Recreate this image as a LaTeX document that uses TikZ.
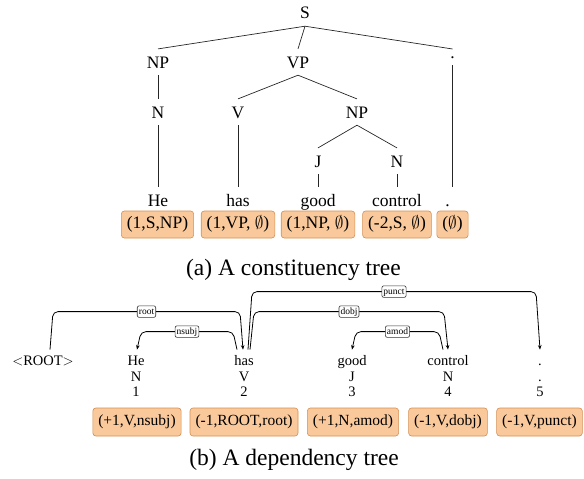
\documentclass[tikz,border=0pt]{standalone}
\usepackage{fontspec}
\setmainfont{Liberation Serif}
\usetikzlibrary{arrows.meta,calc}
\definecolor{boxfill}{RGB}{250,201,155}
\definecolor{boxline}{RGB}{212,142,82}
\begin{document}
\begin{tikzpicture}[x=1pt,y=-1pt,
  tl/.style={font=\fontsize{17.5}{21}\selectfont, text height=11.9pt, text depth=0pt, inner xsep=2pt, inner ysep=7pt, anchor=base},
  dl/.style={font=\fontsize{17.5}{21}\selectfont, inner xsep=1pt, inner ysep=7pt, anchor=base},
  br/.style={line width=0.7pt, draw=black!85},
  abox/.style={font=\fontsize{17.5}{21}\selectfont, fill=boxfill, draw=boxline, rounded corners=3pt, line width=0.6pt, inner xsep=5.5pt, inner ysep=0pt, minimum height=27pt, text height=12.2pt, text depth=3.9pt},
  bbox/.style={font=\fontsize{15.5}{19}\selectfont, fill=boxfill, draw=boxline, rounded corners=3pt, line width=0.6pt, inner xsep=5.5pt, inner ysep=0pt, minimum height=28pt, text height=10.8pt, text depth=3.5pt},
  wd/.style={font=\fontsize{14.5}{17}\selectfont, text height=10.2pt, text depth=0pt, inner xsep=1pt, inner ysep=5pt, anchor=base},
  tg/.style={font=\fontsize{14.5}{17}\selectfont, inner sep=0pt, anchor=base},
  captxt/.style={font=\fontsize{23.5}{28}\selectfont, inner sep=0pt, anchor=base},
  arc/.style={line width=0.8pt, rounded corners=5pt, -{Stealth[length=4.5pt,width=3.6pt]}},
  lbl/.style={font=\fontsize{9.5}{11}\selectfont, fill=white, draw=black!80, line width=0.6pt, rounded corners=2pt, inner xsep=1.6pt, inner ysep=1.4pt, text height=6.8pt, text depth=2pt}
]
\useasboundingbox (0,0) rectangle (584,479);

% ---------- (a) constituency tree ----------
\node[tl] (S) at (305,19) {S};
\node[tl] (NPa) at (158,68) {NP};
\node[tl] (VP) at (298,68) {VP};
\node[dl] (dotU) at (452.5,58) {.};
\node[tl] (Na) at (158,118) {N};
\node[tl] (Va) at (238,118) {V};
\node[tl] (NPb) at (357,118) {NP};
\node[tl] (Ja) at (318,167) {J};
\node[tl] (Nb) at (397,167) {N};
\node[tl] (wHe) at (158,206.5) {He};
\node[tl] (wHas) at (238,206.5) {has};
\node[tl] (wGood) at (318,206.5) {good};
\node[tl] (wControl) at (397,206.5) {control};
\node[tl] (wDot) at (447.5,206.5) {.};

\draw[br] (S.south) -- (NPa.north);
\draw[br] (S.south) -- (VP.north);
\draw[br] (S.south) -- (dotU.north);
\draw[br] (NPa.south) -- (Na.north);
\draw[br] (VP.south) -- (Va.north);
\draw[br] (VP.south) -- (NPb.north);
\draw[br] (NPb.south) -- (Ja.north);
\draw[br] (NPb.south) -- (Nb.north);
\draw[br] (Na.south) -- (wHe.north);
\draw[br] (Va.south) -- (wHas.north);
\draw[br] (Ja.south) -- (wGood.north);
\draw[br] (Nb.south) -- (wControl.north);
\draw[br] (dotU.south) -- (dotU.south |- wDot.north);

\node[abox] (a1) at (157.5,224.5) {(1,S,NP)};
\node[abox] (a2) at (238,224.5) {(1,VP, $\emptyset$)};
\node[abox] (a3) at (318,224.5) {(1,NP, $\emptyset$)};
\node[abox] (a4) at (397,224.5) {(-2,S, $\emptyset$)};
\node[abox] (a5) at (452.5,224.5) {($\emptyset$)};

\node[captxt] (capA) at (293.5,275) {(a) A constituency tree};

% ---------- (b) dependency tree ----------
\node[wd] (ROOT) at (43,365) {$<$ROOT$>$};
\node[wd] (He) at (136,365) {He};
\node[wd] (has) at (244,365) {has};
\node[wd] (good) at (352,365) {good};
\node[wd] (control) at (448,365) {control};
\node[wd] (dot) at (540,365) {.};

\node[tg] (t1) at (136,381) {N};
\node[tg] (t2) at (244,381) {V};
\node[tg] (t3) at (352,381) {J};
\node[tg] (t4) at (448,381) {N};
\node[tg] (t5) at (540,381) {.};

\node[tg] (n1) at (136,396) {1};
\node[tg] (n2) at (244,396) {2};
\node[tg] (n3) at (352,396) {3};
\node[tg] (n4) at (448,396) {4};
\node[tg] (n5) at (540,396) {5};

\draw[arc] ([xshift=7pt]ROOT.north) -- ($(ROOT.north)+(10,-38)$)
  -- node[lbl] (lroot) {root} ($(has.north)+(-4,-38)$) -- ([xshift=-1pt]has.north);
\draw[arc] ([xshift=-7pt]has.north) -- ($(has.north)+(-11,-18)$)
  -- node[lbl] (lnsubj) {nsubj} ($(He.north)+(5,-18)$) -- ([xshift=1pt]He.north);
\draw[arc] ([xshift=4pt]has.north) -- ($(has.north)+(8,-58)$)
  -- node[lbl] (lpunct) {punct} ($(dot.north)+(-4,-58)$) -- (dot.north);
\draw[arc] ([xshift=6pt]has.north) -- ($(has.north)+(10,-38)$)
  -- node[lbl] (ldobj) {dobj} ($(control.north)+(-4,-38)$) -- (control.north);
\draw[arc] ([xshift=-5pt]control.north) -- ($(control.north)+(-9,-18)$)
  -- node[lbl] (lamod) {amod} ($(good.north)+(4,-18)$) -- (good.north);

\node[bbox] (b1) at (137,422) {(+1,V,nsubj)};
\node[bbox] (b2) at (244,422) {(-1,ROOT,root)};
\node[bbox] (b3) at (353,422) {(+1,N,amod)};
\node[bbox] (b4) at (448,422) {(-1,V,dobj)};
\node[bbox] (b5) at (539.5,422) {(-1,V,punct)};

\node[captxt] (capB) at (294,465) {(b) A dependency tree};
\end{tikzpicture}
\end{document}
